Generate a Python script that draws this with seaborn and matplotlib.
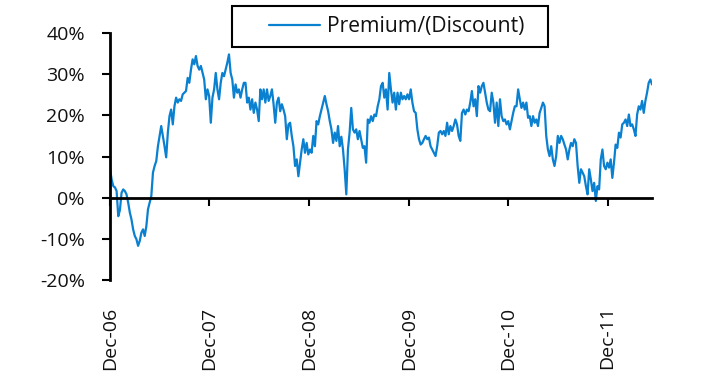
import matplotlib
matplotlib.use("Agg")
import matplotlib.pyplot as plt
import matplotlib.dates as mdates
from matplotlib.ticker import PercentFormatter
from matplotlib.patches import Rectangle
import pandas as pd
import seaborn as sns

# Premium/(Discount) to NAV, in percent, sampled roughly every 6 days
premium_pct = [
    # Dec-06 .. Dec-07
    7.0, 4.4, 2.8, 2.5, 1.6, -4.5, -3.0, 1.2, 2.0, 1.6, 0.8, -1.2, -3.6, -5.3,
    -7.7, -9.3, -10.1, -11.7, -10.5, -8.5, -7.7, -9.3, -6.9, -2.8, -1.2, 0.4,
    6.1, 7.7, 8.9, 12.5, 15.0, 17.4, 15.0, 12.5, 9.8, 15.8, 19.8, 21.4, 17.8,
    22.2, 24.3, 23.1, 23.9, 23.5, 25.1, 25.5, 25.9, 29.1, 27.9, 31.1, 33.6,
    32.4, 34.4, 32.0, 31.1, 32.0, 30.3, 28.7, 23.9, 26.3, 24.7, 18.2, 24.3, 26.3,
    # Dec-07 .. Dec-08
    30.3, 26.3, 23.9, 27.9, 30.3, 29.5, 31.1, 32.8, 34.8, 30.3, 28.7, 24.3,
    27.5, 25.5, 26.3, 24.3, 26.3, 27.9, 27.9, 23.1, 24.3, 21.4, 23.9, 20.6,
    23.1, 21.4, 18.6, 26.3, 23.9, 26.3, 23.1, 26.3, 23.5, 24.7, 26.3, 22.7,
    18.2, 23.1, 24.3, 21.0, 22.7, 21.4, 19.8, 14.2, 17.8, 18.2, 15.0, 12.5,
    7.7, 9.3, 5.2, 8.5, 11.7, 14.2, 10.9, 13.3, 10.5, 11.7, 10.9, 15.0, 12.5,
    # Dec-08 .. Dec-09
    18.6, 17.8, 19.8, 21.4, 23.1, 24.7, 22.7, 21.0, 18.6, 16.6, 13.3, 15.8,
    13.8, 17.4, 12.5, 14.8, 11.7, 6.9, 0.8, 11.7, 15.8, 21.8, 16.6, 15.8,
    16.6, 14.2, 16.2, 14.2, 12.1, 12.5, 8.5, 19.0, 18.2, 19.8, 18.6, 20.2,
    19.8, 22.2, 23.9, 27.1, 27.9, 24.3, 26.3, 21.4, 30.3, 26.3, 23.1, 25.5,
    21.4, 25.5, 22.7, 25.5, 23.9, 24.7, 23.9, 25.1, 23.9, 26.3, 23.1, 21.0,
    20.6, 16.6, 14.2, 12.9, 13.3,
    # Dec-09 .. Dec-10
    14.2, 15.0, 14.2, 14.6, 12.5, 11.7, 10.9, 10.1, 12.5, 15.8, 16.2, 15.4,
    16.2, 15.0, 18.2, 15.4, 17.4, 16.2, 17.4, 19.0, 17.8, 15.0, 13.8, 20.6,
    21.4, 20.2, 21.4, 21.0, 23.1, 25.9, 22.2, 23.9, 19.8, 27.1, 25.5, 27.1,
    27.9, 25.5, 23.1, 21.4, 21.0, 25.5, 23.1, 18.2, 23.1, 17.4, 23.9, 19.8,
    18.6, 19.0, 17.8, 18.6, 16.6, 18.6, 20.6, 22.2, 22.2, 26.3, 23.9, 21.8,
    23.1, 21.4, 23.1, 19.4, 19.8, 17.4, 19.8,
    # Dec-10 .. May-12
    18.2, 19.0, 17.4, 20.6, 21.8, 23.1, 22.2, 15.0, 11.7, 10.1, 12.5, 9.3,
    7.7, 10.1, 15.0, 13.3, 15.0, 14.2, 12.9, 11.7, 9.3, 11.7, 13.3, 12.5,
    14.2, 13.3, 7.7, 3.6, 6.9, 6.1, 5.2, 2.8, 0.8, 6.9, 4.4, 1.6, 3.6, -0.8,
    2.8, 2.0, 9.3, 11.7, 7.7, 6.9, 8.5, 7.3, 9.3, 4.8, 8.5, 12.9, 12.1, 15.8,
    14.6, 17.8, 18.2, 19.0, 17.4, 20.2, 17.4, 17.8, 16.6, 15.0, 20.2, 22.2,
    21.4, 23.5, 20.6, 23.5, 25.5, 27.9, 28.7, 27.5,
]
start_date = "2006-12-01"
end_date = "2012-05-12"
series_label = "Premium/(Discount)"
y_ticks = [-20, -10, 0, 10, 20, 30, 40]

dates = pd.date_range(start_date, end_date, periods=len(premium_pct))
df = pd.DataFrame({"date": dates, "premium": premium_pct})

sns.set_style("white")
plt.rcParams["font.family"] = ["Open Sans", "DejaVu Sans"]
plt.rcParams["axes.unicode_minus"] = False

line_color = "#0A80D0"
text_color = "#111111"
fs = 14

fig = plt.figure(figsize=(7.1, 3.89), dpi=100)
ax = fig.add_axes([110 / 710, 1 - 280 / 389, 542 / 710, 247 / 389])

sns.lineplot(data=df, x="date", y="premium", ax=ax, color=line_color,
             linewidth=1.6, legend=False)

ax.set_xlim(dates[0], dates[-1])
ax.set_ylim(-20, 40)
ax.set_xlabel("")
ax.set_ylabel("")

# Spines: left axis plus a zero line carrying the date ticks
for side in ("top", "right"):
    ax.spines[side].set_visible(False)
ax.spines["left"].set_linewidth(2)
ax.spines["left"].set_color("black")
ax.spines["bottom"].set_position(("data", 0))
ax.spines["bottom"].set_linewidth(2)
ax.spines["bottom"].set_color("black")

ax.set_yticks(y_ticks)
ax.yaxis.set_major_formatter(PercentFormatter(decimals=0))
ax.tick_params(axis="y", direction="out", length=6, width=1.5, color="black",
               pad=12, labelsize=fs, labelcolor=text_color, left=True)

year_ticks = mdates.MonthLocator(bymonth=12, bymonthday=1)
ax.xaxis.set_major_locator(year_ticks)
ax.tick_params(axis="x", direction="out", length=6, width=1.5, color="black",
               bottom=True, labelbottom=False)

# Date labels sit below the plot area, not on the zero line
sec = ax.secondary_xaxis("bottom")
sec.xaxis.set_major_locator(mdates.MonthLocator(bymonth=12, bymonthday=1))
sec.xaxis.set_major_formatter(mdates.DateFormatter("%b-%y"))
sec.tick_params(axis="x", length=0, pad=19, labelsize=fs,
                labelcolor=text_color, labelrotation=90)
sec.spines["bottom"].set_visible(False)

# Legend with a square black frame
handle = ax.get_lines()[0]
fig.legend(handles=[handle], labels=[series_label], loc="center left",
           bbox_to_anchor=(258 / 710, 1 - 26.5 / 389), frameon=False,
           borderpad=0, handlelength=2.45, handletextpad=0.33, fontsize=15.2,
           labelcolor=text_color)
fig.patches.append(Rectangle((232 / 710, 1 - 47 / 389), 316 / 710, 41 / 389,
                             transform=fig.transFigure, fill=False,
                             edgecolor="black", linewidth=1.5))

fig.savefig("out.png", dpi=100)
